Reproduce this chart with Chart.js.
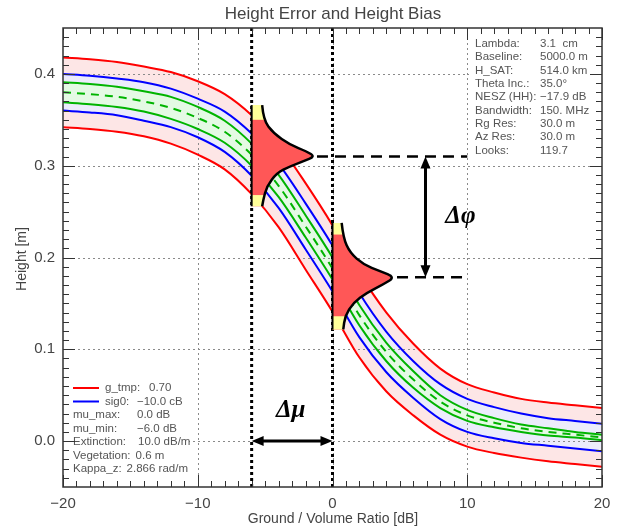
<!DOCTYPE html>
<html>
<head>
<meta charset="utf-8">
<script src="https://cdn.jsdelivr.net/npm/chart.js@4.4.1/dist/chart.umd.min.js"></script>
<style>
  html, body { margin: 0; padding: 0; background: #fff; }
  canvas { display: block; }
</style>
</head>
<body>
<canvas id="heightChart" width="620" height="528"></canvas>
<script>
// Ground / Volume ratio samples [dB]
const gvRatio = [-20, -18, -16, -14, -12, -10, -8, -6, -4, -2, 0, 2, 4, 6, 8, 10, 12, 14, 16, 18, 20];
// mean height [m] (dashed green) and half widths of the three bands
const heightMean = [0.380, 0.378, 0.375, 0.370, 0.363, 0.352, 0.337, 0.312, 0.278, 0.234, 0.188, 0.137, 0.097, 0.067, 0.043, 0.028, 0.020, 0.014, 0.010, 0.007, 0.004];
const redHalf   = [0.038, 0.038, 0.038, 0.038, 0.039, 0.040, 0.041, 0.043, 0.045, 0.047, 0.047, 0.046, 0.043, 0.039, 0.036, 0.034, 0.033, 0.032, 0.032, 0.032, 0.032];
const blueHalf  = [0.020, 0.020, 0.020, 0.021, 0.021, 0.021, 0.022, 0.023, 0.024, 0.025, 0.025, 0.024, 0.022, 0.020, 0.019, 0.018, 0.017, 0.016, 0.015, 0.015, 0.015];
const greenHalf = [0.011, 0.011, 0.011, 0.011, 0.012, 0.012, 0.012, 0.012, 0.012, 0.012, 0.012, 0.011, 0.010, 0.009, 0.007, 0.006, 0.005, 0.004, 0.004, 0.003, 0.003];

const xTicks = [-20, -10, 0, 10, 20];
const yTicks = [0.0, 0.1, 0.2, 0.3, 0.4];

// height distributions drawn at mu_min and mu_max (outline)
const muMin = -6, muMax = 0;
const bellMinHeights = [0.366, 0.350, 0.3355, 0.3228, 0.3155, 0.310, 0.3047, 0.2993, 0.292, 0.2775, 0.263, 0.2558];
const bellMinWidths  = [0.78, 0.87, 1.61, 2.85, 4.09, 4.70, 3.83, 2.85, 1.86, 1.12, 0.87, 0.78];
const bellMaxHeights = [0.2377, 0.2214, 0.2051, 0.1924, 0.1851, 0.1786, 0.1707, 0.1616, 0.1507, 0.1362, 0.1217];
const bellMaxWidths  = [0.68, 0.80, 1.30, 2.29, 3.53, 4.64, 3.77, 2.54, 1.54, 0.93, 0.80];
const bellMinYellow = [0.350, 0.268];
const bellMaxYellow = [0.225, 0.136];
const phiTop = 0.310, phiBottom = 0.1786, phiArrowX = 6.9, phiLineEnd = 10;

const infoLabels = ['Lambda:', 'Baseline:', 'H_SAT:', 'Theta Inc.:', 'NESZ (HH):', 'Bandwidth:', 'Rg Res:', 'Az Res:', 'Looks:'];
const infoValues = ['3.1  cm', '5000.0 m', '514.0 km', '35.0\u00b0', '\u221217.9 dB', '150. MHz', '30.0 m', '30.0 m', '119.7'];
const legendLabels = ['g_tmp:', 'sig0:', 'mu_max:', 'mu_min:', 'Extinction:', 'Vegetation:', 'Kappa_z:'];
const legendValues = ['0.70', '\u221210.0 cB', '0.0 dB', '\u22126.0 dB', '10.0 dB/m', '0.6 m', '2.866 rad/m'];

const FONT = '"Liberation Sans", Arial, sans-serif';
const TEXT = '#444';

function pts(offsetSign, halfArr) {
    return gvRatio.map((x, i) => ({ x: x, y: heightMean[i] + offsetSign * (halfArr ? halfArr[i] : 0) }));
}

function line(data, color, fill, dash) {
    return {
        data: data,
        borderColor: color,
        backgroundColor: fill ? fill.color : 'transparent',
        fill: fill ? fill.target : false,
        borderWidth: 2,
        borderDash: dash || [],
        pointRadius: 0,
        cubicInterpolationMode: 'monotone'
    };
}

function smoothThrough(path, p) {
    path.lineTo(p[0][0], p[0][1]);
    for (let i = 1; i < p.length - 1; i++) {
        const mx = (p[i][0] + p[i + 1][0]) / 2, my = (p[i][1] + p[i + 1][1]) / 2;
        path.quadraticCurveTo(p[i][0], p[i][1], mx, my);
    }
    path.lineTo(p[p.length - 1][0], p[p.length - 1][1]);
}

function drawBell(ctx, xs, ys, base, heights, widths, yellow) {
    const b = xs.getPixelForValue(base);
    const p = heights.map((h, i) => [xs.getPixelForValue(base + widths[i]), ys.getPixelForValue(h)]);
    const yTop = p[0][1], yBot = p[p.length - 1][1];
    const shape = new Path2D();
    shape.moveTo(b, yTop);
    smoothThrough(shape, p);
    shape.lineTo(b, yBot);
    shape.closePath();
    ctx.fillStyle = '#ff5757';
    ctx.fill(shape);
    ctx.save();
    ctx.clip(shape);
    ctx.fillStyle = '#ffff99';
    const y1 = ys.getPixelForValue(yellow[0]), y2 = ys.getPixelForValue(yellow[1]);
    ctx.fillRect(b - 5, yTop - 2, 30, y1 - yTop + 2);
    ctx.fillRect(b - 5, y2, 30, yBot - y2 + 2);
    ctx.restore();
    const edge = new Path2D();
    edge.moveTo(p[0][0], p[0][1]);
    smoothThrough(edge, p);
    ctx.strokeStyle = '#000';
    ctx.lineWidth = 2.5;
    ctx.setLineDash([]);
    ctx.stroke(edge);
    ctx.beginPath();
    ctx.moveTo(b, yTop);
    ctx.lineTo(b, yBot);
    ctx.lineWidth = 2;
    ctx.stroke();
}

function arrowHead(ctx, x, y, dx, dy) {
    const len = 12, w = 5;
    ctx.beginPath();
    ctx.moveTo(x, y);
    ctx.lineTo(x - dx * len - dy * w, y - dy * len + dx * w);
    ctx.lineTo(x - dx * len + dy * w, y - dy * len - dx * w);
    ctx.closePath();
    ctx.fill();
}

const decorations = {
    id: 'decorations',
    beforeDatasetsDraw(chart) {
        const { ctx, chartArea: a, scales: { x, y } } = chart;
        ctx.save();
        // dotted grid
        ctx.strokeStyle = '#8a8a8a';
        ctx.lineWidth = 1;
        ctx.setLineDash([2, 3]);
        xTicks.forEach(v => {
            if (v === -20 || v === 20) return;
            const p = Math.round(x.getPixelForValue(v)) + 0.5;
            ctx.beginPath(); ctx.moveTo(p, a.top); ctx.lineTo(p, a.bottom); ctx.stroke();
        });
        yTicks.forEach(v => {
            const p = Math.round(y.getPixelForValue(v)) + 0.5;
            ctx.beginPath(); ctx.moveTo(a.left, p); ctx.lineTo(a.right, p); ctx.stroke();
        });
        ctx.setLineDash([]);
        // parameter box (top right)
        ctx.fillStyle = '#fff';
        ctx.fillRect(469, 31, 124, 128);
        ctx.fillStyle = '#555';
        ctx.font = '11.5px ' + FONT;
        ctx.textBaseline = 'middle';
        ctx.textAlign = 'left';
        infoLabels.forEach((t, i) => {
            ctx.fillText(t, 475, 44 + i * 13.3);
            ctx.fillText(infoValues[i], 540, 44 + i * 13.3);
        });
        // legend box (bottom left)
        ctx.fillStyle = '#fff';
        ctx.fillRect(66, 378, 123, 100);
        ctx.fillStyle = '#555';
        const valX = [149, 137, 137, 137, 138, 130, 115];
        legendLabels.forEach((t, i) => {
            const yy = 388 + i * 13.5;
            const lx = i < 2 ? 105 : 73;
            ctx.fillText(t, lx, yy);
            const vx = Math.max(valX[i], lx + ctx.measureText(t).width + 5);
            ctx.fillText(legendValues[i], vx, yy);
        });
        ctx.lineWidth = 2;
        ctx.strokeStyle = '#ff0000';
        ctx.beginPath(); ctx.moveTo(73, 388); ctx.lineTo(99, 388); ctx.stroke();
        ctx.strokeStyle = '#0000ff';
        ctx.beginPath(); ctx.moveTo(73, 401.5); ctx.lineTo(99, 401.5); ctx.stroke();
        ctx.restore();
    },
    afterDatasetsDraw(chart) {
        const { ctx, chartArea: a, scales: { x, y } } = chart;
        ctx.save();
        // thick dotted lines at mu_min / mu_max
        ctx.strokeStyle = '#000';
        ctx.lineWidth = 3;
        ctx.setLineDash([3, 3]);
        [muMin, muMax].forEach(v => {
            const p = x.getPixelForValue(v);
            ctx.beginPath(); ctx.moveTo(p, a.top); ctx.lineTo(p, a.bottom); ctx.stroke();
        });
        // distributions
        drawBell(ctx, x, y, muMin, bellMinHeights, bellMinWidths, bellMinYellow);
        drawBell(ctx, x, y, muMax, bellMaxHeights, bellMaxWidths, bellMaxYellow);
        // dashed level lines
        ctx.strokeStyle = '#000';
        ctx.lineWidth = 2.5;
        ctx.setLineDash([11, 7]);
        const tipMin = muMin + Math.max(...bellMinWidths), tipMax = muMax + Math.max(...bellMaxWidths);
        ctx.beginPath();
        ctx.moveTo(x.getPixelForValue(tipMin) + 2, y.getPixelForValue(phiTop));
        ctx.lineTo(x.getPixelForValue(phiLineEnd), y.getPixelForValue(phiTop));
        ctx.moveTo(x.getPixelForValue(tipMax) + 2, y.getPixelForValue(phiBottom));
        ctx.lineTo(x.getPixelForValue(phiLineEnd), y.getPixelForValue(phiBottom));
        ctx.stroke();
        ctx.setLineDash([]);
        // delta phi arrow
        ctx.fillStyle = '#000';
        ctx.lineWidth = 3;
        const ax = x.getPixelForValue(phiArrowX);
        const aTop = y.getPixelForValue(phiTop), aBot = y.getPixelForValue(phiBottom);
        ctx.beginPath(); ctx.moveTo(ax, aTop + 8); ctx.lineTo(ax, aBot - 8); ctx.stroke();
        arrowHead(ctx, ax, aTop, 0, -1);
        arrowHead(ctx, ax, aBot, 0, 1);
        // delta mu arrow
        const ay = y.getPixelForValue(0);
        const m1 = x.getPixelForValue(muMin), m2 = x.getPixelForValue(muMax);
        ctx.beginPath(); ctx.moveTo(m1 + 8, ay); ctx.lineTo(m2 - 8, ay); ctx.stroke();
        arrowHead(ctx, m1, ay, -1, 0);
        arrowHead(ctx, m2, ay, 1, 0);
        // greek labels
        ctx.font = 'italic bold 25px "Liberation Serif", serif';
        ctx.textAlign = 'center';
        ctx.textBaseline = 'middle';
        ctx.fillText('\u0394\u03bc', x.getPixelForValue(-3.1), y.getPixelForValue(0.033));
        ctx.fillText('\u0394\u03c6', x.getPixelForValue(9.5), y.getPixelForValue(0.245));
        // frame and inward ticks
        ctx.strokeStyle = '#333';
        ctx.lineWidth = 1.5;
        ctx.strokeRect(a.left, a.top, a.right - a.left, a.bottom - a.top);
        ctx.lineWidth = 1;
        for (let v = -20; v <= 20; v += 1) {
            const p = Math.round(x.getPixelForValue(v)) + 0.5;
            const len = v % 10 === 0 ? 12 : 6;
            ctx.beginPath();
            ctx.moveTo(p, a.bottom); ctx.lineTo(p, a.bottom - len);
            ctx.moveTo(p, a.top); ctx.lineTo(p, a.top + len);
            ctx.stroke();
        }
        for (let k = -4; k <= 44; k++) {
            const v = k / 100;
            const p = Math.round(y.getPixelForValue(v)) + 0.5;
            const len = k % 10 === 0 ? 12 : 6;
            ctx.beginPath();
            ctx.moveTo(a.left, p); ctx.lineTo(a.left + len, p);
            ctx.moveTo(a.right, p); ctx.lineTo(a.right - len, p);
            ctx.stroke();
        }
        // titles
        ctx.fillStyle = TEXT;
        ctx.font = '17px ' + FONT;
        ctx.textAlign = 'center';
        ctx.fillText('Height Error and Height Bias', 333, 14);
        ctx.font = '14px ' + FONT;
        ctx.fillText('Ground / Volume Ratio [dB]', 333, 519);
        ctx.translate(22, 259);
        ctx.rotate(-Math.PI / 2);
        ctx.fillText('Height [m]', 0, 0);
        ctx.restore();
    }
};

document.addEventListener('DOMContentLoaded', function() {
    const ctx = document.getElementById('heightChart');
    new Chart(ctx, {
        type: 'line',
        data: {
            datasets: [
                line(pts(0), '#00b400', null, [8, 6]),
                line(pts(1, greenHalf), '#00b400', { target: 2, color: '#e4fae4' }),
                line(pts(-1, greenHalf), '#00b400'),
                line(pts(1, blueHalf), '#0000ff', { target: 4, color: '#ececfb' }),
                line(pts(-1, blueHalf), '#0000ff'),
                line(pts(1, redHalf), '#ff0000', { target: 6, color: '#fde6e6' }),
                line(pts(-1, redHalf), '#ff0000')
            ]
        },
        options: {
            responsive: false,
            animation: false,
            layout: { padding: { top: 28, right: 18, left: 0, bottom: 0 } },
            plugins: {
                legend: { display: false },
                tooltip: { enabled: false },
                filler: { drawTime: 'beforeDatasetsDraw' }
            },
            scales: {
                x: {
                    type: 'linear',
                    min: -20,
                    max: 20,
                    afterBuildTicks: s => { s.ticks = xTicks.map(v => ({ value: v })); },
                    afterFit: s => { s.height = 41; },
                    grid: { display: false, drawTicks: false },
                    border: { display: false },
                    ticks: {
                        color: TEXT,
                        font: { size: 15, family: FONT },
                        padding: 8,
                        maxRotation: 0,
                        callback: v => String(v).replace('-', '\u2212')
                    }
                },
                y: {
                    type: 'linear',
                    min: -0.05,
                    max: 0.45,
                    afterBuildTicks: s => { s.ticks = yTicks.map(v => ({ value: v })); },
                    afterFit: s => { s.width = 63; },
                    grid: { display: false, drawTicks: false },
                    border: { display: false },
                    ticks: {
                        color: TEXT,
                        font: { size: 15, family: FONT },
                        padding: 8,
                        callback: v => v.toFixed(1)
                    }
                }
            }
        },
        plugins: [decorations]
    });
});
</script>
</body>
</html>
